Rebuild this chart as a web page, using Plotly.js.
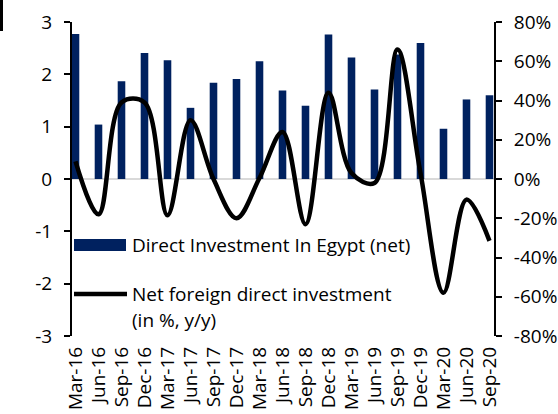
<!DOCTYPE html>
<html>
<head>
<meta charset="utf-8">
<script src="https://cdn.plot.ly/plotly-3.0.1.min.js"></script>
<style>html,body{margin:0;padding:0;background:#fff;}#chart{width:558px;height:414px;}</style>
</head>
<body>
<div id="chart"></div>
<script>
const categories = ["Mar-16","Jun-16","Sep-16","Dec-16","Mar-17","Jun-17","Sep-17","Dec-17","Mar-18","Jun-18","Sep-18","Dec-18","Mar-19","Jun-19","Sep-19","Dec-19","Mar-20","Jun-20","Sep-20"];
const directInvestment = [2.77,1.04,1.87,2.41,2.27,1.36,1.84,1.91,2.25,1.69,1.40,2.76,2.32,1.71,2.38,2.60,0.96,1.52,1.60];
const netFdiGrowth = [9,-18,39,39,-18.5,30,0,-20,0.5,24,-23,44,3,-2,66,3,-58,-10.5,-31.5];
const leftTicks = [-3,-2,-1,0,1,2,3];
const leftTickText = ["-3","-2","-1","0","1","2","3"];
const rightTicks = [-80,-60,-40,-20,0,20,40,60,80];
const rightTickText = ["-80%","-60%","-40%","-20%","0%","20%","40%","60%","80%"];
const legendBar = "Direct Investment In Egypt (net)";
const legendLine1 = "Net foreign direct investment";
const legendLine2 = "(in %, y/y)";

const FONT = "'Open Sans', sans-serif";
const FS = 19;
const navy = "#00215F";

const L = 72, R = 494, T = 22, B = 336;
const W = 558, H = 414;
const px = x => (x - L) / (R - L);
const py = y => (B - y) / (B - T);

const traces = [
  {type: "bar", x: categories, y: directInvestment, marker: {color: navy}, name: legendBar, showlegend: false, yaxis: "y", hoverinfo: "skip"},
  {type: "scatter", mode: "lines", x: categories, y: netFdiGrowth, line: {color: "#000", width: 4.5, shape: "spline", smoothing: 1}, name: legendLine1, showlegend: false, yaxis: "y2", hoverinfo: "skip"}
];

const tf = {family: FONT, size: FS, color: "#000"};
const layout = {
  width: W, height: H,
  margin: {l: L, r: W - R, t: T, b: H - B, pad: 0},
  paper_bgcolor: "#fff", plot_bgcolor: "rgba(0,0,0,0)",
  font: tf,
  bargap: 0.67,
  xaxis: {
    type: "category", range: [-0.152, 18.196], tickmode: "array", tickvals: categories, ticktext: categories,
    showline: false, showgrid: false, zeroline: false,
    ticks: "", tickangle: -90, tickfont: tf, ticklabelstandoff: 6, automargin: false
  },
  yaxis: {
    range: [-3, 3], tickmode: "array", tickvals: leftTicks, ticktext: leftTickText, showgrid: false, zeroline: true, zerolinecolor: "#d9d9d9", zerolinewidth: 2,
    showline: true, linecolor: "#000", linewidth: 2, ticks: "outside", ticklen: 6, tickwidth: 2, tickcolor: "#000",
    tickfont: tf, ticklabelstandoff: 8, automargin: false
  },
  yaxis2: {
    range: [-80, 80], tickmode: "array", tickvals: rightTicks, ticktext: rightTickText, overlaying: "y", side: "right", showgrid: false, zeroline: false,
    showline: true, linecolor: "#000", linewidth: 2, ticks: "outside", ticklen: 6, tickwidth: 2, tickcolor: "#000",
    tickfont: tf, ticklabelstandoff: 8, automargin: false
  },
  shapes: [
    {type: "rect", xref: "paper", yref: "paper", x0: px(74), x1: px(126), y0: py(251), y1: py(239), fillcolor: navy, line: {width: 0}},
    {type: "line", xref: "paper", yref: "paper", x0: px(74), x1: px(127), y0: py(294), y1: py(294), line: {color: "#000", width: 4.5}},
    {type: "rect", xref: "paper", yref: "paper", x0: px(0), x1: px(3), y0: py(0), y1: py(31), fillcolor: "#000", line: {width: 0}}
  ],
  annotations: [
    {xref: "paper", yref: "paper", x: px(130), y: py(245), xanchor: "left", yanchor: "middle", text: legendBar, showarrow: false, font: tf},
    {xref: "paper", yref: "paper", x: px(130), y: py(294), xanchor: "left", yanchor: "middle", text: legendLine1, showarrow: false, font: tf},
    {xref: "paper", yref: "paper", x: px(130), y: py(320), xanchor: "left", yanchor: "middle", text: legendLine2, showarrow: false, font: tf}
  ]
};

Plotly.newPlot("chart", traces, layout, {staticPlot: true, displayModeBar: false});
</script>
</body>
</html>
